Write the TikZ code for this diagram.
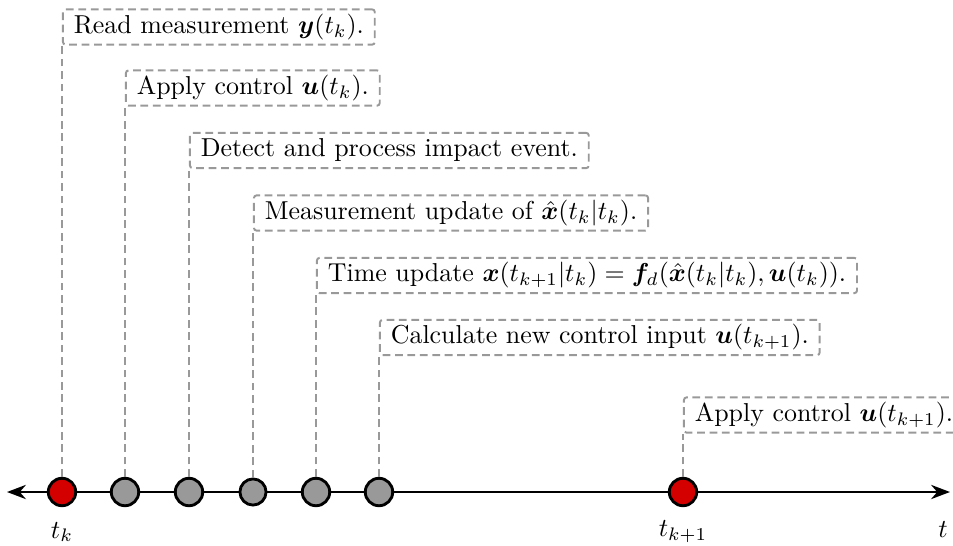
\documentclass[tikz,border=0pt]{standalone}
\usepackage{bm}
\usetikzlibrary{arrows.meta}
\definecolor{lgray}{HTML}{999999}
\definecolor{dred}{HTML}{D40000}
\begin{document}
\begin{tikzpicture}[x=0.386pt,y=-0.386pt,
  font=\normalsize,
  info/.style={draw=lgray, line width=0.75pt, dash pattern=on 3pt off 1.8pt, rounded corners=1pt,
    anchor=west, inner xsep=4.2pt, inner ysep=1.8pt, text height=7.5pt, text depth=2.5pt},
  vline/.style={draw=lgray, line width=0.75pt, dash pattern=on 3pt off 1.8pt},
  ev/.style={circle, draw=black, line width=1.1pt, minimum size=10.6pt, inner sep=0pt, fill=lgray},
  evr/.style={ev, fill=dred},
  axisline/.style={line width=0.9pt, {Stealth[length=7.3pt,width=5.5pt]}-{Stealth[length=7.3pt,width=5.5pt]}},
  lab/.style={inner sep=0pt}
]
\useasboundingbox (0,0) rectangle (953,546);
\coordinate (L) at (7,492);
\coordinate (R) at (950,492);
\draw[axisline] (L) -- (R);

\node[evr] (c1) at (62,492) {};
\node[ev] (c2) at (125,492) {};
\node[ev] (c3) at (189,492) {};
\node[ev, minimum size=10.1pt] (c4) at (253,492) {};
\node[ev] (c5) at (316,492) {};
\node[ev] (c6) at (379,492) {};
\node[evr] (c7) at (683,492) {};

\node[info] (b1) at (62,27) {Read measurement $\bm{y}(t_k)$.};
\node[info] (b2) at (125,88) {Apply control $\bm{u}(t_k)$.};
\node[info] (b3) at (189,150.5) {Detect and process impact event.};
\node[info] (b4) at (253,213) {Measurement update of $\hat{\bm{x}}(t_k|t_k)$.};
\node[info] (b5) at (316,275.5) {Time update $\bm{x}(t_{k+1}|t_k)=\bm{f}_d(\hat{\bm{x}}(t_k|t_k),\bm{u}(t_k))$.};
\node[info] (b6) at (379,337.5) {Calculate new control input $\bm{u}(t_{k+1})$.};
\node[info] (b7) at (683,415) {Apply control $\bm{u}(t_{k+1})$.};

\foreach \i in {1,...,7} {\draw[vline] (c\i.north) -- (b\i.south west);}

\node[lab] (l1) at (62,532) {$t_k$};
\node[lab] (l2) at (683,532) {$t_{k+1}$};
\node[lab] (l3) at (943,530) {$t$};
\end{tikzpicture}
\end{document}
